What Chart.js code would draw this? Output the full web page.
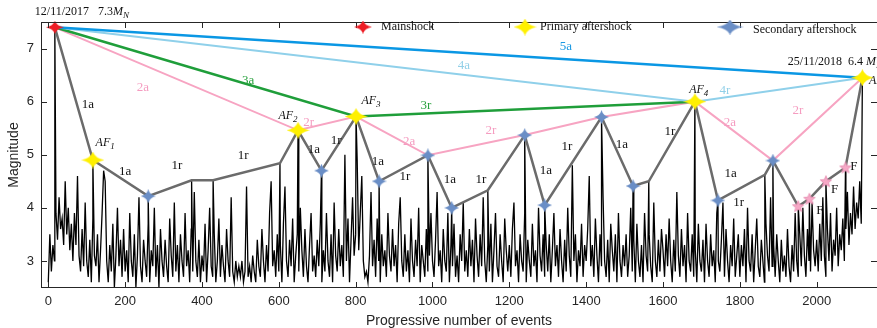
<!DOCTYPE html>
<html>
<head>
<meta charset="utf-8">
<script src="https://cdn.jsdelivr.net/npm/chart.js@4.4.0/dist/chart.umd.min.js"></script>
<style>
  html, body { margin: 0; padding: 0; background: #fff; }
  canvas { display: block; }
</style>
</head>
<body>
<canvas id="chart_magnitudes" width="877" height="328"></canvas>
<script>
// ---- data ----
// background catalogue, one value every 4 events from event 0
const eventStep = 4;
const backgroundMags = [
  2.6,3.5,2.8,3.3,3.0,3.9,3.4,4.2,3.6,3.8,3.3,4.5,3.5,4.0,3.2,3.7,3.0,3.9,3.3,4.6,3.1,2.8,3.6,2.9,4.1,
  3.0,2.7,3.4,2.6,3.8,3.1,2.9,3.5,2.6,3.2,3.9,4.7,4.5,3.0,2.6,3.3,2.8,3.7,2.5,3.1,4.0,2.9,3.4,2.7,3.6,
  2.8,3.2,2.6,3.9,3.0,2.7,3.5,2.5,3.1,4.2,2.9,2.6,3.4,3.0,2.7,3.7,2.6,3.2,2.9,4.0,2.7,3.3,2.5,3.6,3.0,
  2.7,3.4,2.9,2.6,3.8,3.1,2.7,4.1,2.8,3.3,2.6,3.5,3.0,2.7,3.9,2.9,3.2,2.6,3.6,2.8,4.3,3.0,2.7,3.4,2.6,
  3.1,2.8,3.7,2.6,3.2,4.0,2.9,2.7,3.5,2.6,3.0,3.8,2.7,3.3,2.9,2.6,3.6,3.0,2.7,4.2,2.8,2.6,3.0,2.7,2.9,
  2.7,3.0,2.6,2.8,4.4,2.7,2.9,2.6,3.1,2.8,2.6,3.4,2.9,2.7,3.6,3.0,2.6,3.3,2.8,3.9,4.5,2.9,3.2,2.7,3.5,
  2.8,3.3,2.6,3.7,4.4,3.0,2.7,3.4,2.9,3.8,2.6,3.1,3.5,2.8,4.0,3.2,2.7,3.6,2.9,2.6,3.3,3.9,2.8,3.1,2.7,
  3.4,2.9,3.7,2.6,3.2,2.8,3.9,3.0,2.7,3.5,2.6,4.1,3.1,2.8,3.6,2.9,3.3,2.7,5.0,3.0,3.8,2.6,3.4,4.2,3.1,
  3.5,4.9,3.2,3.9,4.6,3.0,2.7,2.8,2.6,3.1,4.3,2.9,3.4,2.7,3.8,3.0,2.6,3.5,2.9,3.2,2.7,3.9,3.1,2.8,3.6,
  2.9,3.3,2.6,3.7,4.2,3.0,2.7,3.5,2.8,3.2,2.6,3.8,3.0,2.7,3.4,2.9,4.0,2.6,3.3,3.0,2.7,3.6,2.8,3.1,3.9,
  3.0,2.7,3.4,4.3,2.9,3.2,2.6,3.6,3.0,2.8,3.9,2.6,3.3,2.9,3.7,2.7,3.1,2.6,3.5,3.0,4.1,2.8,3.2,2.7,3.6,
  2.9,3.4,2.6,3.8,3.1,2.7,3.5,2.9,4.2,3.0,2.6,3.3,2.8,3.7,2.6,3.2,3.9,2.9,2.7,3.5,3.0,2.6,3.8,3.2,2.8,
  3.3,2.7,3.6,4.1,2.9,3.2,2.6,3.5,3.0,2.8,3.9,2.6,3.4,3.0,2.7,3.7,2.9,3.2,2.6,4.0,3.1,2.8,3.5,2.7,3.3,
  2.8,3.5,2.6,3.2,3.9,2.9,3.3,2.7,3.6,3.0,2.6,3.4,2.8,4.0,3.1,2.7,4.8,3.0,3.5,2.6,3.2,2.9,3.7,2.7,3.3,
  3.0,3.6,4.6,2.9,3.3,2.7,3.8,3.1,2.6,3.5,2.9,4.2,3.0,2.7,3.4,2.6,3.7,3.2,2.8,3.5,2.6,3.9,3.0,2.7,3.3,
  2.9,3.5,2.7,3.1,4.0,2.8,3.4,2.6,3.7,3.0,2.7,3.3,2.6,3.9,3.1,2.8,3.5,2.9,2.6,4.1,3.0,2.7,3.4,2.8,3.6,
  3.2,2.7,3.5,2.9,3.8,3.0,2.6,3.4,2.8,4.3,3.1,2.7,3.6,2.9,3.3,2.6,3.9,3.0,2.8,3.5,2.7,3.2,2.6,3.7,3.0,
  2.8,3.4,2.6,3.7,3.0,2.7,3.5,2.9,3.2,2.6,3.9,3.0,2.8,3.4,4.1,2.7,3.6,3.0,2.6,3.3,2.9,3.8,2.7,3.1,3.5,
  2.7,3.3,2.9,3.6,2.6,4.0,3.0,2.8,3.5,2.6,3.2,3.8,2.9,2.7,3.4,3.0,2.6,3.7,3.1,2.8,4.2,2.9,3.3,2.7,3.5,
  3.0,2.6,3.4,2.8,3.1,2.7,3.6,2.9,2.6,3.3,2.8,3.9,3.0,2.7,3.5,2.9,4.0,3.1,2.7,3.6,3.0,2.8,4.1,3.2,2.9,
  3.4,2.8,3.7,3.0,4.2,3.1,2.7,3.6,3.0,3.9,2.8,3.4,3.1,4.0,2.9,3.5,3.2,3.8,3.0,3.6,4.3,3.3,3.9,3.5,4.4,
  3.6,4.1,3.8,4.5,3.7
];

// marked events: event number and magnitude
const mainshockX = [17];
const mainshockMag = [7.4];
const primaryX = [116, 650, 801, 1683, 2119];
const primaryMag = [4.9, 5.46, 5.72, 6.0, 6.45];
const secondaryX = [260, 711, 861, 988, 1050, 1240, 1292, 1440, 1522, 1743, 1886];
const secondaryMag = [4.22, 4.70, 4.50, 4.99, 4.00, 5.37, 4.05, 5.71, 4.41, 4.14, 4.89];
const finalX = [1952, 1981, 2024, 2075];
const finalMag = [4.03, 4.17, 4.50, 4.76];
const turnX = [373, 429, 603, 1144, 1563, 1865];
const turnMag = [4.52, 4.52, 4.84, 4.33, 4.50, 4.62];

// the connecting paths, as lists of event numbers
const path1 = [17, 116, 260, 373, 429, 603, 650, 711, 801, 861, 988, 1050, 1144, 1240, 1292,
               1440, 1522, 1563, 1683, 1743, 1865, 1886, 1952, 1981, 2024, 2075, 2119];
const path2 = [17, 650, 801, 988, 1240, 1440, 1683, 1886, 2119];
const path3 = [17, 801, 1683];
const path4 = [17, 1683, 2119];
const path5 = [17, 2119];

const xTickValues = [0, 200, 400, 600, 800, 1000, 1200, 1400, 1600, 1800, 2000];
const yTickValues = [3, 4, 5, 6, 7];
const firstDate = '12/11/2017   7.3';
const lastDate = '25/11/2018  6.4 ';

// ---- build points ----
const eventMag = new Map();
[[mainshockX, mainshockMag], [primaryX, primaryMag], [secondaryX, secondaryMag],
 [finalX, finalMag], [turnX, turnMag]].forEach(([xs, ms]) => xs.forEach((x, i) => eventMag.set(x, ms[i])));

const pts = (xs, ms) => xs.map((x, i) => ({ x, y: ms[i] }));
const pathPts = p => p.map(x => ({ x, y: eventMag.get(x) }));
const catalogue = backgroundMags.map((m, i) => ({ x: i * eventStep, y: m }))
  .concat([...eventMag].map(([x, y]) => ({ x, y })))
  .sort((a, b) => a.x - b.x);

// ---- marker images ----
function sparkle(colour, w, h) {
  const c = document.createElement('canvas');
  c.width = w; c.height = h;
  const g = c.getContext('2d');
  const a = w / 2, b = h / 2, f = 0.2;
  g.translate(a, b);
  g.fillStyle = colour;
  g.beginPath();
  g.moveTo(0, -b);
  g.quadraticCurveTo(a * f, -b * f, a, 0);
  g.quadraticCurveTo(a * f, b * f, 0, b);
  g.quadraticCurveTo(-a * f, b * f, -a, 0);
  g.quadraticCurveTo(-a * f, -b * f, 0, -b);
  g.fill();
  return c;
}
function pentagram(fill, edge, r) {
  const s = Math.ceil(r * 2 + 2);
  const c = document.createElement('canvas');
  c.width = s; c.height = s;
  const g = c.getContext('2d');
  g.translate(s / 2, s / 2 + 0.5);
  g.beginPath();
  for (let i = 0; i < 10; i++) {
    const ang = -Math.PI / 2 + i * Math.PI / 5, rr = i % 2 ? r * 0.45 : r;
    g.lineTo(Math.cos(ang) * rr, Math.sin(ang) * rr);
  }
  g.closePath();
  g.fillStyle = fill; g.fill();
  g.strokeStyle = edge; g.lineWidth = 0.8; g.stroke();
  return c;
}

const RED = '#ee1d25', YELLOW = '#fff000', SLATE = '#6a8ec6', PINKSTAR = '#f6a8c6';
const starRed = sparkle(RED, 18, 13);
const starYellow = sparkle(YELLOW, 23, 17);
const starSlate = sparkle(SLATE, 15, 14);
const starPink = pentagram(PINKSTAR, '#e48aae', 6);

// ---- annotations ----
const C = { k: '#111111', p: '#f59cc0', g: '#27a03c', lb: '#92d0e8', b: '#1a98e2' };
const segLabels = [
  ['1a', 103, 5.95, 'k'], ['1a', 200, 4.68, 'k'], ['1r', 335, 4.79, 'k'], ['1r', 507, 4.99, 'k'],
  ['2a', 246, 6.27, 'p'], ['3a', 520, 6.40, 'g'], ['2r', 678, 5.61, 'p'], ['1a', 691, 5.09, 'k'],
  ['1r', 749, 5.26, 'k'], ['3r', 983, 5.93, 'g'], ['1a', 858, 4.88, 'k'], ['2a', 939, 5.24, 'p'],
  ['1r', 928, 4.58, 'k'], ['1a', 1045, 4.53, 'k'], ['1r', 1126, 4.53, 'k'], ['2r', 1152, 5.46, 'p'],
  ['1a', 1295, 4.71, 'k'], ['1r', 1350, 5.16, 'k'], ['1a', 1493, 5.20, 'k'], ['1r', 1618, 5.44, 'k'],
  ['4r', 1761, 6.21, 'lb'], ['2a', 1774, 5.61, 'p'], ['2r', 1951, 5.84, 'p'], ['1a', 1776, 4.64, 'k'],
  ['1r', 1797, 4.10, 'k'], ['F', 2008, 3.95, 'k'], ['F', 2047, 4.34, 'k'], ['F', 2097, 4.77, 'k'],
  ['5a', 1347, 7.03, 'b'], ['4a', 1082, 6.68, 'lb']
];
const afLabels = [['1', 148, 5.22], ['2', 624, 5.74], ['3', 840, 6.02], ['4', 1693, 6.23]];

function italicSub(ctx, px, py, main, sub, align) {
  ctx.font = 'italic 12px "Liberation Serif"';
  const w1 = ctx.measureText(main).width;
  ctx.font = 'italic 9px "Liberation Serif"';
  const w2 = ctx.measureText(sub).width;
  const x0 = align === 'left' ? px : px - (w1 + w2) / 2;
  ctx.textAlign = 'left';
  ctx.font = 'italic 12px "Liberation Serif"';
  ctx.fillText(main, x0, py);
  ctx.font = 'italic 9px "Liberation Serif"';
  ctx.fillText(sub, x0 + w1, py + 4);
}

const annotate = {
  id: 'annotate',
  afterDatasetsDraw(chart) {
    const { ctx, scales: { x, y } } = chart;
    ctx.save();
    ctx.textBaseline = 'middle';
    ctx.textAlign = 'center';
    ctx.font = '13px "Liberation Serif"';
    segLabels.forEach(([t, ex, em, c]) => {
      ctx.fillStyle = C[c];
      ctx.fillText(t, x.getPixelForValue(ex), y.getPixelForValue(em));
    });
    ctx.fillStyle = '#111';
    afLabels.forEach(([n, ex, em]) => italicSub(ctx, x.getPixelForValue(ex), y.getPixelForValue(em), 'AF', n));
    italicSub(ctx, x.getPixelForValue(2136), y.getPixelForValue(6.40), 'AF', '5', 'left');

    // dates of the first and last events
    ctx.textAlign = 'left';
    ctx.font = '12px "Liberation Serif"';
    let px = x.getPixelForValue(-35), py = y.getPixelForValue(7.69);
    ctx.fillText(firstDate, px, py);
    italicSub(ctx, px + ctx.measureText(firstDate).width, py, 'M', 'N', 'left');
    ctx.font = '12px "Liberation Serif"';
    px = x.getPixelForValue(1925); py = y.getPixelForValue(6.75);
    ctx.fillText(lastDate, px, py);
    italicSub(ctx, px + ctx.measureText(lastDate).width, py, 'M', 'N', 'left');
    ctx.restore();
  }
};

// legend drawn at fixed spots over the top of the axes
const legendSpots = [
  { mark: starRed, mx: 363, tx: 381, my: 27, ty: 27 },
  { mark: sparkle(YELLOW, 23, 17), mx: 525, tx: 540, my: 27, ty: 27 },
  { mark: sparkle(SLATE, 27, 15), mx: 730, tx: 753, my: 27, ty: 30 }
];
const markerLegend = {
  id: 'markerLegend',
  afterDatasetsDraw(chart) {
    const { ctx } = chart;
    const items = chart.data.datasets.filter(d => d.legendSlot !== undefined);
    ctx.save();
    ctx.font = '12px "Liberation Serif"';
    ctx.fillStyle = '#111';
    ctx.textBaseline = 'middle';
    ctx.textAlign = 'left';
    items.forEach(d => {
      const s = legendSpots[d.legendSlot];
      ctx.drawImage(s.mark, s.mx - s.mark.width / 2, s.my - s.mark.height / 2);
      ctx.fillText(d.label, s.tx, s.ty);
    });
    ctx.restore();
  }
};

// axes box with inward ticks
const frame = {
  id: 'frame',
  afterDatasetsDraw(chart) {
    const { ctx, chartArea: a, scales: { x, y } } = chart;
    ctx.save();
    ctx.strokeStyle = '#262626';
    ctx.lineWidth = 1;
    ctx.beginPath();
    ctx.moveTo(a.left + 0.5, a.top + 0.5); ctx.lineTo(a.right, a.top + 0.5);
    ctx.moveTo(a.left + 0.5, a.top); ctx.lineTo(a.left + 0.5, a.bottom);
    ctx.moveTo(a.left, a.bottom - 0.5); ctx.lineTo(a.right, a.bottom - 0.5);
    x.ticks.forEach(t => {
      const p = Math.round(x.getPixelForValue(t.value)) + 0.5;
      ctx.moveTo(p, a.bottom); ctx.lineTo(p, a.bottom - 6);
      ctx.moveTo(p, a.top); ctx.lineTo(p, a.top + 6);
    });
    y.ticks.forEach(t => {
      const p = Math.round(y.getPixelForValue(t.value)) + 0.5;
      ctx.moveTo(a.left, p); ctx.lineTo(a.left + 6, p);
      ctx.moveTo(a.right, p); ctx.lineTo(a.right - 6, p);
    });
    ctx.stroke();
    ctx.restore();
  }
};

const line = (data, color, width, order) => ({
  data, showLine: true, borderColor: color, borderWidth: width,
  pointRadius: 0, tension: 0, order
});
const marks = (label, data, style, order, legendSlot) => ({
  label, data, showLine: false, pointStyle: style, pointRadius: 6,
  backgroundColor: 'transparent', borderColor: 'transparent', clip: false, order, legendSlot
});

new Chart(document.getElementById('chart_magnitudes').getContext('2d'), {
  type: 'scatter',
  data: {
    datasets: [
      marks('Mainshock', pts(mainshockX, mainshockMag), starRed, 0, 0),
      marks('Primary aftershock', pts(primaryX, primaryMag), starYellow, 1, 1),
      marks('Secondary aftershock', pts(secondaryX, secondaryMag), starSlate, 2, 2),
      marks('F', pts(finalX, finalMag), starPink, 1.5),
      line(pathPts(path5), '#0a97e4', 2.5, 3),
      line(pathPts(path4), '#8fd0ea', 2, 4),
      line(pathPts(path3), '#1f9e3a', 2.5, 5),
      line(pathPts(path2), '#f7a4c2', 2, 6),
      line(pathPts(path1), '#6b6b6b', 2.5, 7),
      line(catalogue, '#000000', 1.3, 8)
    ]
  },
  options: {
    responsive: false,
    animation: false,
    events: [],
    layout: { autoPadding: false, padding: { top: 22, right: 0, bottom: 0, left: 0 } },
    plugins: { legend: { display: false }, tooltip: { enabled: false } },
    scales: {
      x: {
        type: 'linear', position: 'bottom',
        min: -19, max: 2157,
        afterFit: s => { s.height = 40; s.paddingLeft = 0; s.paddingRight = 0; },
        afterBuildTicks: s => { s.ticks = xTickValues.map(value => ({ value })); },
        grid: { display: false, drawTicks: false },
        border: { display: false },
        ticks: {
          autoSkip: false, maxRotation: 0,
          padding: 6, color: '#262626', font: { family: '"Liberation Sans", Arial', size: 13 },
          callback: v => String(v)
        },
        title: {
          display: true, text: 'Progressive number of events', color: '#262626',
          font: { family: '"Liberation Sans", Arial', size: 14, lineHeight: 1.05 },
          padding: { top: 0, bottom: 0 }
        }
      },
      y: {
        min: 2.49, max: 7.5,
        afterFit: s => { s.width = 41; s.paddingTop = 0; s.paddingBottom = 0; },
        afterBuildTicks: s => { s.ticks = yTickValues.map(value => ({ value })); },
        grid: { display: false, drawTicks: false },
        border: { display: false },
        ticks: {
          padding: 7, color: '#262626',
          font: { family: '"Liberation Sans", Arial', size: 13 }
        },
        title: {
          display: true, text: 'Magnitude', color: '#262626',
          font: { family: '"Liberation Sans", Arial', size: 14 },
          padding: { top: 6, bottom: 0 }
        }
      }
    }
  },
  plugins: [frame, annotate, markerLegend]
});
</script>
</body>
</html>
